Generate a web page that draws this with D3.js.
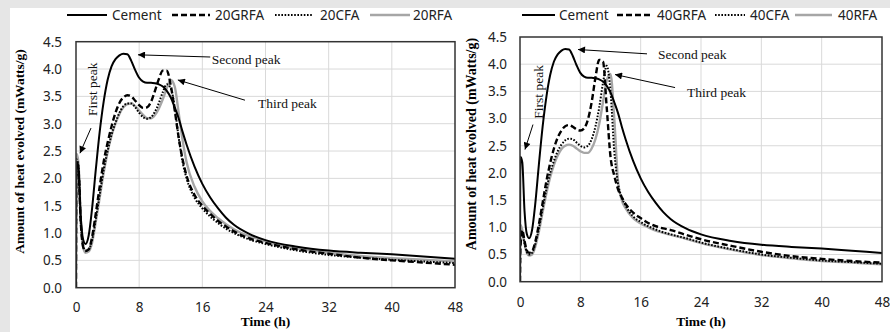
<!DOCTYPE html>
<html><head><meta charset="utf-8">
<script src="https://cdn.jsdelivr.net/npm/d3@7"></script>
<style>body{margin:0;background:#e6e6e6;} svg{display:block;}</style>
</head><body>
<svg id="chart" width="890" height="332"></svg>
<script>
// ---- data ----
const hours = [0,0.05,0.3,0.6,0.9,1.2,1.6,2,2.5,3,3.5,4,4.5,5,5.5,6,6.5,7,7.5,8,8.5,9,9.5,10,10.5,11,11.5,12,12.5,13,13.5,14,15,16,17,18,19,20,22,24,28,32,36,40,44,48];
const cement = [0,2.3,2.2,1.3,0.88,0.8,0.95,1.4,2.15,2.85,3.4,3.8,4.05,4.18,4.25,4.28,4.27,4.15,3.98,3.84,3.77,3.75,3.75,3.74,3.72,3.68,3.6,3.48,3.3,3.1,2.85,2.62,2.22,1.9,1.65,1.45,1.28,1.15,0.98,0.87,0.75,0.68,0.64,0.61,0.57,0.53];
const grfa20 = [0,2.3,2.2,1.2,0.75,0.67,0.7,0.9,1.35,1.85,2.3,2.65,2.95,3.2,3.38,3.48,3.52,3.5,3.42,3.34,3.29,3.3,3.4,3.6,3.82,3.97,3.97,3.7,3.25,2.75,2.35,2.05,1.7,1.5,1.35,1.22,1.12,1.03,0.9,0.82,0.7,0.62,0.55,0.5,0.46,0.42];
const cfa20 = [0,2.35,2.25,1.2,0.78,0.68,0.7,0.85,1.25,1.7,2.15,2.5,2.8,3.02,3.2,3.32,3.37,3.37,3.3,3.2,3.12,3.09,3.12,3.22,3.38,3.58,3.72,3.65,3.3,2.75,2.3,2.0,1.65,1.45,1.3,1.18,1.08,1.0,0.88,0.8,0.68,0.6,0.55,0.51,0.48,0.45];
const rfa20 = [0,2.45,2.3,1.25,0.75,0.64,0.66,0.8,1.2,1.65,2.1,2.48,2.78,3.0,3.18,3.3,3.36,3.37,3.32,3.24,3.16,3.1,3.1,3.16,3.28,3.45,3.65,3.8,3.68,3.2,2.7,2.3,1.85,1.58,1.4,1.27,1.16,1.07,0.94,0.85,0.72,0.64,0.58,0.54,0.51,0.48];
const grfa40 = [0,0.6,0.95,0.75,0.58,0.53,0.56,0.72,1.05,1.45,1.85,2.18,2.45,2.65,2.78,2.86,2.88,2.85,2.8,2.78,2.82,2.98,3.3,3.75,4.08,4.05,3.2,2.3,1.95,1.7,1.55,1.43,1.27,1.17,1.08,1.02,0.98,0.95,0.86,0.78,0.66,0.55,0.47,0.42,0.38,0.35];
const cfa40 = [0,0.9,0.9,0.7,0.55,0.5,0.53,0.68,0.98,1.35,1.7,2.0,2.22,2.4,2.52,2.6,2.63,2.62,2.56,2.5,2.47,2.5,2.62,2.85,3.2,3.65,3.97,3.5,2.4,1.8,1.55,1.4,1.2,1.1,1.02,0.96,0.91,0.87,0.8,0.72,0.6,0.5,0.44,0.39,0.36,0.33];
const rfa40 = [0,1.05,0.95,0.7,0.53,0.48,0.5,0.63,0.92,1.28,1.62,1.92,2.15,2.32,2.44,2.5,2.52,2.5,2.45,2.4,2.37,2.37,2.45,2.62,2.9,3.3,3.7,3.82,3.0,1.85,1.5,1.35,1.17,1.07,1.0,0.94,0.9,0.86,0.79,0.71,0.59,0.49,0.43,0.38,0.35,0.32];
const xTicks = [0,8,16,24,32,40,48];
const yTicks = [0,0.5,1,1.5,2,2.5,3,3.5,4,4.5];
const legend20 = ["Cement","20GRFA","20CFA","20RFA"];
const legend40 = ["Cement","40GRFA","40CFA","40RFA"];
// annotations: [label, tailT, tailV, headT, headV, textT, textV, vertical]
const notes20 = [["Second peak",17.0,4.22,7.85,4.26,17.2,4.18,false],["Third peak",21.4,3.43,12.9,3.8,23.05,3.38,false],["First peak",1.9,2.92,0.5,2.46,2.15,3.63,true]];
const notes40 = [["Second peak",16.84,4.19,7.69,4.27,18.3,4.19,false],["Third peak",20.56,3.57,12.6,3.81,22.15,3.49,false],["First peak",1.72,2.89,0.66,2.43,2.52,3.49,true]];

const styles = [
  {stroke:"#000", width:2, dash:null},
  {stroke:"#000", width:2.4, dash:"6,3"},
  {stroke:"#000", width:2, dash:"1.6,1.6"},
  {stroke:"#a6a6a6", width:2.4, dash:null}
];

const svg = d3.select("#chart");
svg.append("rect").attr("x",10).attr("y",8).attr("width",880).attr("height",324).attr("fill","#fff");

const defs = svg.append("defs");
defs.append("marker").attr("id","arr").attr("viewBox","0 0 10 10").attr("refX",10).attr("refY",5)
  .attr("markerWidth",9).attr("markerHeight",7).attr("markerUnits","userSpaceOnUse").attr("orient","auto")
  .append("path").attr("d","M0,0 L10,5 L0,10 Z").attr("fill","#000");

function panel(cfg){
  const x = d3.scaleLinear().domain([0,48]).range([cfg.left,cfg.right]);
  const y = d3.scaleLinear().domain([0,4.5]).range([cfg.bottom,cfg.top]);
  const g = svg.append("g");
  // grid
  g.selectAll(".gx").data(xTicks.slice(1,-1)).join("line")
    .attr("x1",d=>x(d)).attr("x2",d=>x(d)).attr("y1",cfg.top).attr("y2",cfg.bottom)
    .attr("stroke","#d9d9d9").attr("stroke-width",1);
  g.selectAll(".gy").data(yTicks.slice(1,-1)).join("line")
    .attr("y1",d=>y(d)).attr("y2",d=>y(d)).attr("x1",cfg.left).attr("x2",cfg.right)
    .attr("stroke","#d9d9d9").attr("stroke-width",1);
  // tick labels via d3 axes
  const ax = g.append("g").attr("transform",`translate(0,${cfg.xLabY})`)
    .call(d3.axisBottom(x).tickValues(xTicks).tickSize(0).tickPadding(0).tickFormat(d3.format("d")));
  ax.select(".domain").remove();
  ax.selectAll("text").attr("font-family","'Noto Sans',sans-serif").attr("font-size",13.5).attr("fill","#222").attr("dy","0.35em");
  const ay = g.append("g").attr("transform",`translate(${cfg.yLabX},0)`)
    .call(d3.axisLeft(y).tickValues(yTicks).tickSize(0).tickPadding(0).tickFormat(d3.format(".1f")));
  ay.select(".domain").remove();
  ay.selectAll("text").attr("font-family","'Noto Sans',sans-serif").attr("font-size",13.5).attr("fill","#222");
  // lines
  const line = d3.line().x((d,i)=>x(hours[i])).y(d=>y(d)).curve(d3.curveMonotoneX);
  const clip = "clip"+cfg.id;
  defs.append("clipPath").attr("id",clip).append("rect")
    .attr("x",cfg.left).attr("y",cfg.top).attr("width",cfg.right-cfg.left).attr("height",cfg.bottom-cfg.top+2);
  [3,2,1,0].forEach(k=>{
    const s = styles[k];
    g.append("path").attr("d",line(cfg.series[k])).attr("fill","none")
      .attr("stroke",s.stroke).attr("stroke-width",s.width).attr("stroke-dasharray",s.dash)
      .attr("stroke-linejoin","round").attr("clip-path",`url(#${clip})`);
  });
  // frame
  g.append("rect").attr("x",cfg.left).attr("y",cfg.top).attr("width",cfg.right-cfg.left).attr("height",cfg.bottom-cfg.top)
    .attr("fill","none").attr("stroke","#333").attr("stroke-width",1.5);
  // annotations
  cfg.notes.forEach(n=>{
    g.append("line").attr("x1",x(n[1])).attr("y1",y(n[2])).attr("x2",x(n[3])).attr("y2",y(n[4]))
      .attr("stroke","#000").attr("stroke-width",1).attr("marker-end","url(#arr)");
    const t = g.append("text").text(n[0]).attr("font-family","'Liberation Serif',serif").attr("font-size",13.5).attr("fill","#111");
    if(n[7]){
      t.attr("transform",`translate(${x(n[5])+4},${y(n[6])}) rotate(-90)`).attr("text-anchor","middle");
    } else {
      t.attr("x",x(n[5])).attr("y",y(n[6])).attr("dy","0.35em");
    }
  });
  // axis titles
  g.append("text").text(cfg.yTitle).attr("font-family","'Liberation Serif',serif").attr("font-weight","bold")
    .attr("font-size",cfg.yTitleSize).attr("text-anchor","middle")
    .attr("transform",`translate(${cfg.yTitleX},${cfg.yTitleY}) rotate(-90)`);
  g.append("text").text("Time (h)").attr("font-family","'Liberation Serif',serif").attr("font-weight","bold")
    .attr("font-size",13.5).attr("text-anchor","middle").attr("x",(cfg.left+cfg.right)/2).attr("y",cfg.xTitleY);
  // legend
  cfg.legend.forEach((name,k)=>{
    const p = cfg.legPos[k], s = styles[k];
    g.append("line").attr("x1",p[0]).attr("x2",p[1]).attr("y1",cfg.legY).attr("y2",cfg.legY)
      .attr("stroke",s.stroke).attr("stroke-width",s.width).attr("stroke-dasharray",s.dash);
    g.append("text").text(name).attr("x",p[2]).attr("y",cfg.legY).attr("dy","0.35em")
      .attr("font-family","'Noto Sans',sans-serif").attr("font-size",13.5).attr("fill","#222");
  });
}

panel({id:"a", left:76, right:455, top:41.7, bottom:287.7, xLabY:307, yLabX:62,
  series:[cement,grfa20,cfa20,rfa20], notes:notes20, legend:legend20,
  legPos:[[67,107,112],[172,210,215],[275,313,320],[370,410,413]], legY:15,
  yTitle:"Amount of heat evolved (mWatts/g)", yTitleSize:13.5, yTitleX:24, yTitleY:151.5, xTitleY:326});
panel({id:"b", left:520, right:882, top:37, bottom:281.7, xLabY:302, yLabX:507,
  series:[cement,grfa40,cfa40,rfa40], notes:notes40, legend:legend40,
  legPos:[[522,555,559],[617,653,657],[715,745,750],[795,832,838]], legY:15,
  yTitle:"Amount of heat evolved  (mWatts/g)", yTitleSize:14, yTitleX:476, yTitleY:144, xTitleY:326});
</script>
</body></html>
